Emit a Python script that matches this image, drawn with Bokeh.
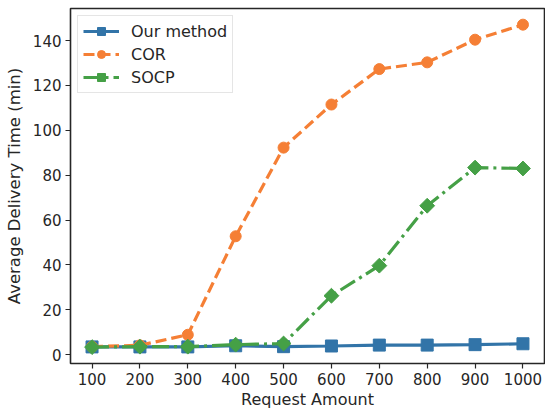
import math
from bokeh.plotting import figure
from bokeh.models import FixedTicker, Range1d, Legend, LegendItem
from bokeh.embed import file_html
from bokeh.resources import INLINE

x_values = [100, 200, 300, 400, 500, 600, 700, 800, 900, 1000]
our_method = [3.5, 3.5, 3.5, 4.0, 3.6, 3.9, 4.3, 4.3, 4.5, 4.9]
cor = [3.6, 4.2, 8.9, 52.8, 92.3, 111.5, 127.3, 130.3, 140.4, 147.1]
socp = [3.4, 3.6, 3.6, 4.5, 5.0, 26.3, 39.7, 66.4, 83.4, 83.0]
y_ticks = [0, 20, 40, 60, 80, 100, 120, 140]

FONT = "DejaVu Sans"
TXT = "#262626"

p = figure(width=545, height=411, output_backend="svg", toolbar_location=None,
           x_range=Range1d(55, 1045), y_range=Range1d(-3.9, 154.3),
           min_border_left=70, min_border_right=1, min_border_top=8, min_border_bottom=48)

p.background_fill_color = "white"
p.border_fill_color = "white"
p.outline_line_color = "#262626"
p.outline_line_width = 1.6
p.grid.visible = False

for ax in (p.xaxis, p.yaxis):
    ax.axis_line_color = None
    ax.major_tick_line_color = "#262626"
    ax.major_tick_line_width = 1.2
    ax.major_tick_out = 5
    ax.major_tick_in = 0
    ax.minor_tick_line_color = None
    ax.major_label_text_font = FONT
    ax.major_label_text_font_size = "15px"
    ax.major_label_text_color = TXT
    ax.axis_label_text_font = FONT
    ax.axis_label_text_font_size = "16px"
    ax.axis_label_text_font_style = "normal"
    ax.axis_label_text_color = TXT

p.yaxis.axis_label_text_font_size = "16.5px"

p.xaxis.ticker = FixedTicker(ticks=x_values)
p.yaxis.ticker = FixedTicker(ticks=y_ticks)
p.xaxis.axis_label = "Request Amount"
p.yaxis.axis_label = "Average Delivery Time (min)"
p.xaxis.major_label_standoff = 4
p.yaxis.major_label_standoff = 4
p.xaxis.axis_label_standoff = 2
p.yaxis.axis_label_standoff = 6

BLUE = "#3274a8"
ORANGE = "#f57f35"
GREEN = "#45a046"

l1 = p.line(x_values, our_method, line_color=BLUE, line_width=3.2)
m1 = p.scatter(x_values, our_method, marker="square", size=12, fill_color=BLUE, line_color=BLUE)
l2 = p.line(x_values, cor, line_color=ORANGE, line_width=3.2, line_dash="11 5")
m2 = p.scatter(x_values, cor, marker="circle", size=11, fill_color=ORANGE, line_color=ORANGE)
l3 = p.line(x_values, socp, line_color=GREEN, line_width=3.2, line_dash="17 5 3 5")
m3 = p.scatter(x_values, socp, marker="square", size=10.5, angle=math.pi / 4,
               fill_color=GREEN, line_color=GREEN)

legend = Legend(items=[
    LegendItem(label="Our method", renderers=[l1, m1]),
    LegendItem(label="COR", renderers=[l2, m2]),
    LegendItem(label="SOCP", renderers=[l3, m3]),
], location="top_left")
legend.label_text_font = FONT
legend.label_text_font_size = "16px"
legend.label_text_color = TXT
legend.border_line_color = "#cccccc"
legend.border_line_width = 1.2
legend.background_fill_alpha = 0.8
legend.glyph_width = 36
legend.glyph_height = 20
legend.label_standoff = 12
legend.label_height = 20
legend.spacing = 3
legend.padding = 5
legend.margin = 7
p.add_layout(legend)

open("out.html", "w").write(file_html(p, INLINE))
